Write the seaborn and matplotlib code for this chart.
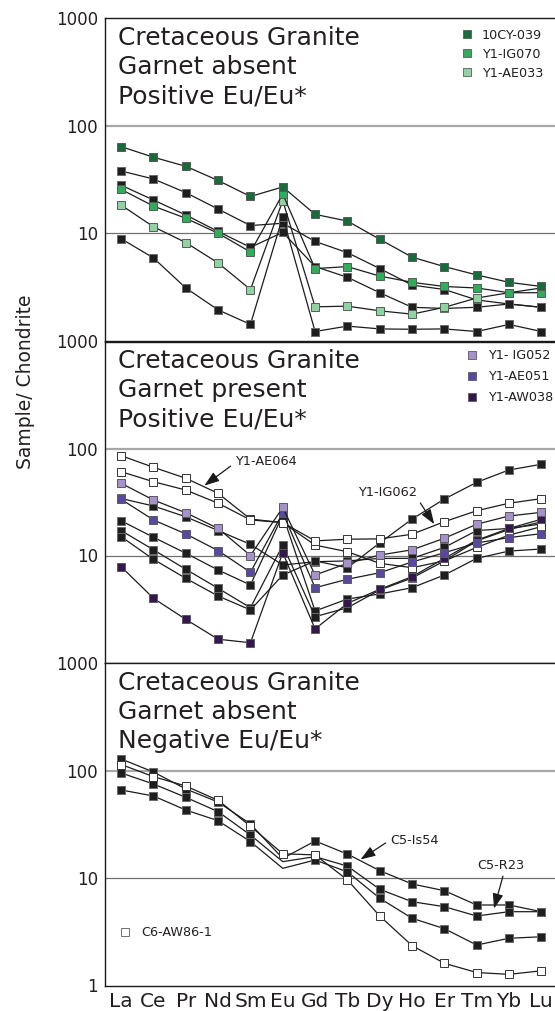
import numpy as np
import pandas as pd
import matplotlib
matplotlib.use("Agg")
import matplotlib.pyplot as plt
from matplotlib.lines import Line2D
from matplotlib.ticker import LogLocator, NullFormatter
import seaborn as sns

# Rare earth elements in chondrite-normalised order
ELEMENTS = ["La", "Ce", "Pr", "Nd", "Sm", "Eu", "Gd", "Tb", "Dy", "Ho", "Er", "Tm", "Yb", "Lu"]

# --- Garnet absent, positive Eu anomaly -------------------------------------
cy039 = [64, 51, 42, 31, 22, 27, 15, 13, 8.8, 6.0, 4.9, 4.1, 3.5, 3.2]
ig070 = [25.6, 17.9, 13.8, 10.0, 6.7, 23.2, 4.7, 4.9, 4.0, 3.5, 3.2, 3.1, 2.8, 2.8]
ae033 = [18.3, 11.5, 8.2, 5.3, 3.0, 20.1, 2.07, 2.1, 1.9, 1.77, 2.05, 2.5, 2.8, 3.1]
pos_black_1 = [38, 32, 23.9, 16.8, 11.8, 12.4, 8.4, 6.6, 4.7, 3.3, 3.0, 2.4, 2.2, 2.05]
pos_black_2 = [28, 20.4, 14.8, 10.4, 7.4, 10.2, 4.9, 3.9, 2.8, 2.05, 2.0, 2.05, 2.2, 2.05]
pos_black_3 = [8.9, 5.9, 3.1, 1.94, 1.42, 14.3, 1.22, 1.37, 1.29, 1.28, 1.29, 1.22, 1.42, 1.22]

# --- Garnet present, positive Eu anomaly ------------------------------------
ae064 = [85.7, 66.7, 52.7, 38.1, 21.9, 20.3, 12.5, 10.85, 8.45, 7.69, 8.9, 11.9, 15.5, 18.6]
ig062 = [60.7, 48.9, 40.9, 30.8, 21.5, 20.3, 13.7, 14.2, 14.3, 15.8, 20.7, 26.2, 30.8, 34.0]
ig052 = [47.3, 33.0, 25.1, 17.9, 10.0, 28.1, 6.57, 8.45, 10.1, 11.3, 14.5, 19.6, 23.4, 25.3]
ae051 = [33.5, 21.5, 15.9, 11.1, 6.97, 25.1, 5.0, 6.0, 6.9, 8.7, 10.6, 13.1, 14.7, 16.0]
aw038 = [7.86, 3.98, 2.53, 1.65, 1.53, 10.6, 2.06, 3.57, 4.83, 6.34, 9.4, 13.9, 17.9, 21.8]
grt_black_1 = [34.1, 29.0, 23.0, 17.1, 12.7, 8.15, 8.75, 8.9, 9.4, 9.4, 11.9, 17.1, 17.9, 19.7]
grt_black_2 = [21.1, 14.8, 10.5, 7.32, 5.3, 23.9, 3.03, 3.92, 4.37, 5.0, 6.57, 9.4, 11.0, 11.5]
grt_black_3 = [17.1, 11.3, 7.43, 4.94, 3.25, 12.5, 2.68, 3.25, 4.76, 6.16, 8.9, 13.7, 17.5, 20.6]
grt_black_4 = [15.0, 9.2, 6.12, 4.18, 3.1, 6.57, 8.9, 7.69, 13.1, 21.9, 33.7, 48.3, 63.0, 71.2]

# --- Garnet absent, negative Eu anomaly -------------------------------------
is54 = [128, 96.8, 67.3, 50.9, 31.8, 15.2, 22.1, 16.7, 11.7, 8.8, 7.62, 5.61, 5.61, 4.86]
r23 = [94.8, 74.9, 56.3, 41.4, 25.1, 14.2, 15.8, 12.9, 7.85, 6.02, 5.41, 4.43, 4.86, 4.86]
neg_black_3 = [65.9, 57.9, 42.9, 34.1, 21.8, 12.3, 14.7, 11.4, 6.48, 4.22, 3.38, 2.38, 2.75, 2.84]
aw86 = [113.7, 87.6, 71.7, 52.8, 30.3, 16.8, 16.4, 9.6, 4.43, 2.35, 1.61, 1.32, 1.27, 1.37]

# Colours
INK = "#231f20"
LINE = "#1c1c1c"
BLACK_FACE = "#1e1e1e"
GREEN_DARK, GREEN_MID, GREEN_LIGHT = "#186c39", "#2fae5a", "#8fd3a2"
PURPLE_LIGHT, PURPLE_MID, PURPLE_DARK = "#a592ca", "#5a47a2", "#35174f"

sns.set_style("white")
plt.rcParams["font.family"] = ["DejaVu Sans"]
plt.rcParams["text.color"] = INK

W, H = 555.0, 1011.0
fig = plt.figure(figsize=(W / 100, H / 100), dpi=100)
LEFT_PX, RIGHT_PX = 105.0, 557.5


def panel_axes(top_px, bottom_px):
    return fig.add_axes([LEFT_PX / W, 1 - bottom_px / H,
                         (RIGHT_PX - LEFT_PX) / W, (bottom_px - top_px) / H])


ax1 = panel_axes(18.3, 340.8)
ax2 = panel_axes(341.5, 662.5)
ax3 = panel_axes(663.0, 985.5)

positions = np.arange(len(ELEMENTS))


def draw_series(ax, values, face, edge="#5a5a5a", skip=None, z=3):
    df = pd.DataFrame({"pos": positions, "val": values})
    every = None if skip is None else [i for i in range(len(values)) if i != skip]
    sns.lineplot(data=df, x="pos", y="val", ax=ax, color=LINE, linewidth=0.9,
                 marker="s", markersize=6.2, markerfacecolor=face,
                 markeredgecolor=edge, markeredgewidth=0.7, markevery=every,
                 estimator=None, sort=False, legend=False, zorder=z)


def style_axes(ax, ticks, labels, show_x):
    ax.set_yscale("log")
    ax.set_ylim(1, 1000)
    ax.set_xlim(-0.5, 13.5)
    ax.set_xlabel("")
    ax.set_ylabel("")
    ax.set_facecolor("white")
    for side in ("top", "left", "bottom"):
        ax.spines[side].set_color("#1a1a1a")
        ax.spines[side].set_linewidth(1.0)
    ax.spines["right"].set_visible(False)
    ax.set_yticks(ticks)
    ax.set_yticklabels(labels)
    ax.yaxis.set_minor_locator(LogLocator(base=10, subs=np.arange(2, 10)))
    ax.yaxis.set_minor_formatter(NullFormatter())
    ax.tick_params(axis="y", which="major", direction="in", length=5, width=0.7,
                   color="#555555", labelsize=12, pad=5, labelcolor=INK)
    ax.tick_params(axis="y", which="minor", direction="in", length=3.5, width=0.6,
                   color="#777777")
    ax.set_xticks(positions)
    ax.set_xticklabels(ELEMENTS)
    ax.set_xticks(np.arange(0.5, 13, 1), minor=True)
    ax.tick_params(axis="x", which="major", length=0, pad=5, labelsize=14.5,
                   labelcolor=INK, labelbottom=show_x)
    ax.tick_params(axis="x", which="minor", direction="in", length=4, width=0.6,
                   color="#777777")
    ax.axhline(100, color="#a8a8a8", linewidth=1.6, zorder=1)
    ax.axhline(10, color="#707070", linewidth=0.9, zorder=1)


def panel_title(ax, lines, height_px):
    for i, text in enumerate(lines):
        ax.text(0.0287, 1 - (26.8 + 29 * i) / height_px, text, transform=ax.transAxes,
                fontsize=18, va="baseline", ha="left", color=INK, zorder=6)


def sample_legend(ax, entries, anchor, spacing, pad):
    handles = [Line2D([], [], linestyle="none", marker="s", markersize=5.6,
                      markerfacecolor=fc, markeredgecolor="#5a5a5a", markeredgewidth=0.6,
                      label=lab) for lab, fc in entries]
    leg = ax.legend(handles=handles, loc="upper left", bbox_to_anchor=anchor,
                    frameon=False, fontsize=9.2, borderpad=0, borderaxespad=0,
                    handlelength=1.0, handletextpad=pad, labelspacing=spacing)
    for t in leg.get_texts():
        t.set_color(INK)
    return leg


# Panel 1
for vals in (pos_black_1, pos_black_2, pos_black_3):
    draw_series(ax1, vals, BLACK_FACE, "#6a6a6a")
draw_series(ax1, ae033, GREEN_LIGHT)
draw_series(ax1, ig070, GREEN_MID)
draw_series(ax1, cy039, GREEN_DARK)
style_axes(ax1, [10, 100, 1000], ["10", "100", "1000"], False)
panel_title(ax1, ["Cretaceous Granite", "Garnet absent", "Positive Eu/Eu*"], 322.5)
sample_legend(ax1, [("10CY-039", GREEN_DARK), ("Y1-IG070", GREEN_MID),
                    ("Y1-AE033", GREEN_LIGHT)], (0.785, 0.968), 0.47, 0.67)

# Panel 2
for vals in (grt_black_1, grt_black_2, grt_black_3, grt_black_4):
    draw_series(ax2, vals, BLACK_FACE, "#6a6a6a")
draw_series(ax2, ae064, "white", "#333333")
draw_series(ax2, ig062, "white", "#333333")
draw_series(ax2, aw038, PURPLE_DARK)
draw_series(ax2, ae051, PURPLE_MID)
draw_series(ax2, ig052, PURPLE_LIGHT)
style_axes(ax2, [10, 100, 1000], ["10", "100", "1000"], False)
panel_title(ax2, ["Cretaceous Granite", "Garnet present", "Positive Eu/Eu*"], 321.0)
sample_legend(ax2, [("Y1- IG052", PURPLE_LIGHT), ("Y1-AE051", PURPLE_MID),
                    ("Y1-AW038", PURPLE_DARK)], (0.796, 0.976), 0.62, 0.8)


def on_line(values, x):
    """Point on a series' segment at fractional element position x (log interpolation)."""
    i = int(np.floor(x))
    f = x - i
    lo, hi = np.log10(values[i]), np.log10(values[i + 1])
    return x, 10 ** (lo + f * (hi - lo))


ARROW = dict(arrowstyle="-|>,head_length=0.45,head_width=0.16", color="#1a1a1a",
             lw=0.9, mutation_scale=20, shrinkA=1, shrinkB=1)

ax2.annotate("Y1-AE064", xy=on_line(ae064, 2.54), xytext=(0.2873, 0.626),
             textcoords="axes fraction", ha="left", va="center", fontsize=9.3,
             arrowprops=dict(ARROW, relpos=(0.0, 0.4)), zorder=6)
ax2.annotate("Y1-IG062", xy=on_line(ig062, 9.71), xytext=(0.6243, 0.531),
             textcoords="axes fraction", ha="center", va="center", fontsize=9.3,
             arrowprops=dict(ARROW, relpos=(1.0, 0.05)), zorder=6)

# Panel 3
draw_series(ax3, is54, BLACK_FACE, "#6a6a6a", skip=5)
draw_series(ax3, r23, BLACK_FACE, "#6a6a6a", skip=5)
draw_series(ax3, neg_black_3, BLACK_FACE, "#6a6a6a", skip=5)
draw_series(ax3, aw86, "white", "#333333")
style_axes(ax3, [1, 10, 100, 1000], ["1", "10", "100", "1000"], True)
panel_title(ax3, ["Cretaceous Granite", "Garnet absent", "Negative Eu/Eu*"], 322.5)
sample_legend(ax3, [("C6-AW86-1", "white")], (0.030, 0.183), 0.5, 0.8)

ax3.annotate("C5-Is54", xy=on_line(is54, 7.37), xytext=(0.630, 0.451),
             textcoords="axes fraction", ha="left", va="center", fontsize=9.3,
             arrowprops=dict(ARROW, relpos=(0.0, 0.5)), zorder=6)
ax3.annotate("C5-R23", xy=on_line(r23, 11.49), xytext=(0.875, 0.3736),
             textcoords="axes fraction", ha="center", va="center", fontsize=9.3,
             arrowprops=dict(ARROW, relpos=(0.57, 0.0), shrinkB=4), zorder=6)

fig.text(26 / W, 1 - 382 / H, "Sample/ Chondrite", rotation=90, ha="center",
         va="center", fontsize=13.5, color=INK)

fig.savefig("out.png", dpi=100, facecolor="white")
